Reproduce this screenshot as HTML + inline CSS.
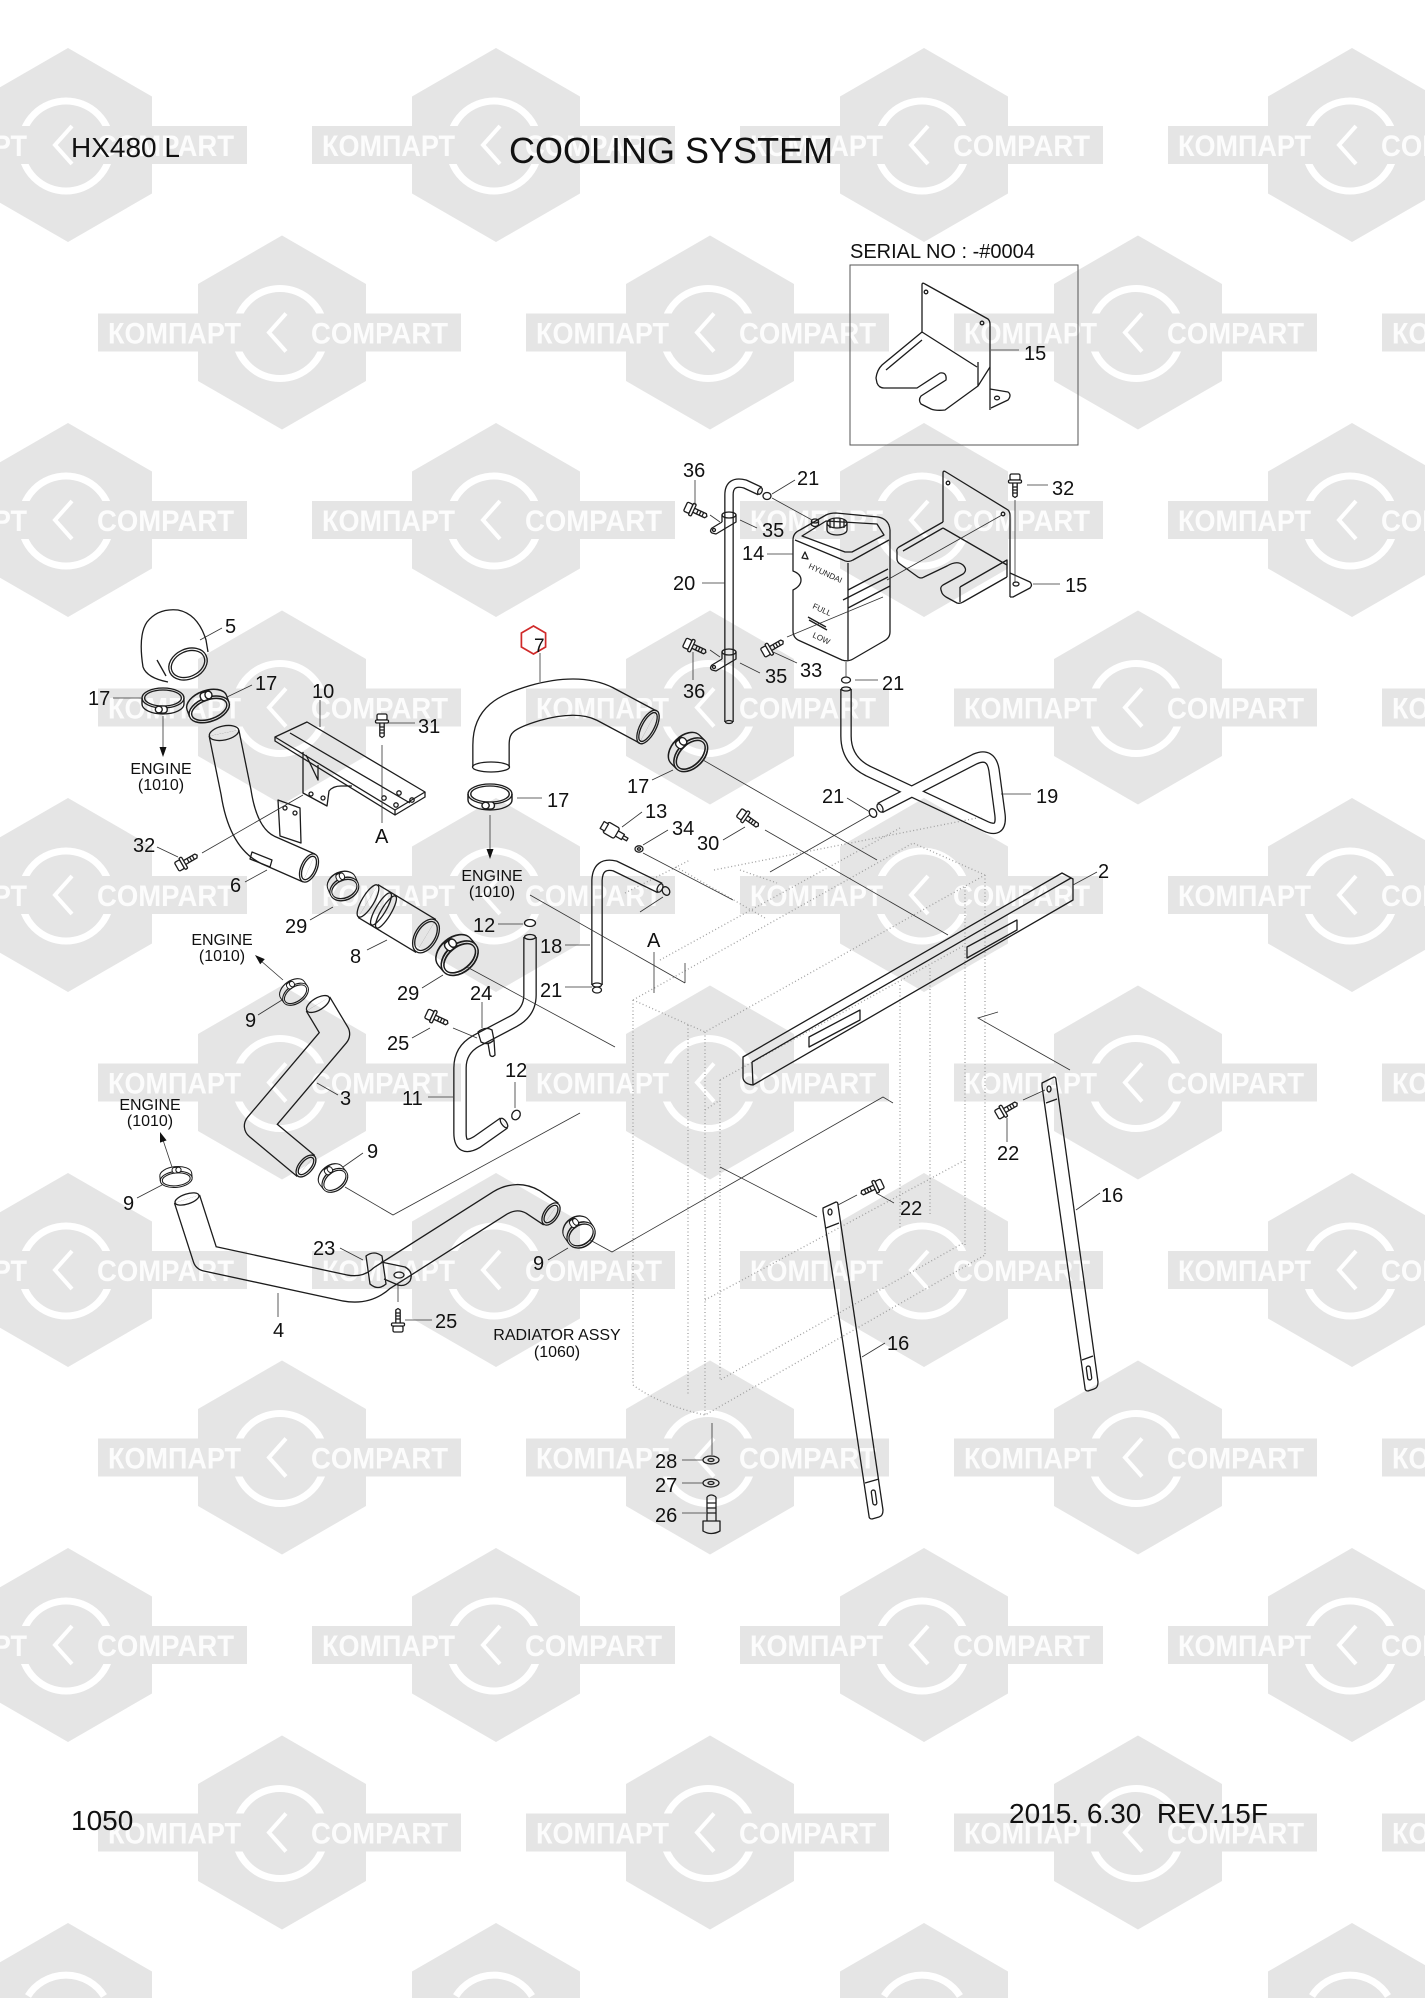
<!DOCTYPE html>
<html><head><meta charset="utf-8">
<style>
html,body{margin:0;padding:0;background:#fff;width:1425px;height:2000px;overflow:hidden;}
svg{display:block;}
.w{font:bold 30px "Liberation Sans",sans-serif;fill:#fcfcfc;}
.t{font:20px "Liberation Sans",sans-serif;fill:#111;}
.e{font:16px "Liberation Sans",sans-serif;fill:#111;}
.p{fill:none;stroke:#1c1c1c;stroke-width:1.3;stroke-linejoin:round;}
.l{fill:none;stroke:#333;stroke-width:0.8;}
.d{fill:none;stroke:#a0a0a0;stroke-width:1.3;stroke-dasharray:1 2.5;}
.sm{font:8px "Liberation Sans",sans-serif;fill:#222;}
</style></head>
<body>
<svg width="1425" height="2000" viewBox="0 0 1425 2000" xmlns="http://www.w3.org/2000/svg">
<defs>
<g id="h">
<polygon points="0,-97 84,-48.5 84,48.5 0,97 -84,48.5 -84,-48.5" fill="#e5e5e5"/>
<circle cx="-2" cy="1" r="45" fill="none" stroke="#fff" stroke-width="7"/>
<rect x="-184" y="-19" width="363" height="38" fill="#e5e5e5"/>
<polyline points="4,-19 -13,0 4,19" fill="none" stroke="#fff" stroke-width="4"/>
</g>
<g id="hb">
<polygon points="0,-97 84,-48.5 84,-22 -84,-22 -84,-48.5" fill="#e5e5e5"/>
<path d="M-40,-24 A45,45 0 0 1 36,-24" fill="none" stroke="#fff" stroke-width="7"/>
</g>
<g id="cl" class="p">
<ellipse cx="0" cy="-3" rx="20" ry="10"/>
<path d="M-20,-3 L-20,3 A20,10 0 0 0 20,3 L20,-3"/>
<ellipse cx="0" cy="-3" rx="17.5" ry="8"/>
<rect x="-6" y="5" width="10" height="7" rx="3" fill="#fff"/>
<circle cx="-4" cy="8.5" r="3.3" fill="#fff"/>
</g>
<g id="bo" class="p">
<rect x="-6" y="-5" width="6" height="10" rx="1.5" fill="#fff"/>
<rect x="0" y="-6.5" width="3" height="13" rx="1.2" fill="#fff"/>
<path d="M3,-2.2 H16 L17.5,0 L16,2.2 H3 M7,-2.2 v4.4 M10,-2.2 v4.4 M13,-2.2 v4.4"/>
</g>
<mask id="m7" maskUnits="userSpaceOnUse" x="0" y="0" width="1425" height="2000"><rect width="1425" height="2000" fill="#fff"/><path d="M491,767 L491,745 C491,720 505,712 535,703 C560,696 585,694 605,704 L648,727" fill="none" stroke="#000" stroke-width="35" stroke-linejoin="round"/></mask>
<mask id="m6" maskUnits="userSpaceOnUse" x="0" y="0" width="1425" height="2000"><rect width="1425" height="2000" fill="#fff"/><path d="M224,733 L236,792 Q243,838 268,850 L309,868" fill="none" stroke="#000" stroke-width="29" stroke-linejoin="round"/></mask>
<mask id="m3" maskUnits="userSpaceOnUse" x="0" y="0" width="1425" height="2000"><rect width="1425" height="2000" fill="#fff"/><path d="M318,1004 L336,1034 L258,1126 L306,1166" fill="none" stroke="#000" stroke-width="26" stroke-linejoin="round"/></mask>
<mask id="m4" maskUnits="userSpaceOnUse" x="0" y="0" width="1425" height="2000"><rect width="1425" height="2000" fill="#fff"/><path d="M187,1199 L206,1258 L345,1288 Q367,1292 382,1278 L500,1203 Q517,1193 533,1202 L551,1214" fill="none" stroke="#000" stroke-width="25" stroke-linejoin="round"/></mask>
<mask id="m8" maskUnits="userSpaceOnUse" x="0" y="0" width="1425" height="2000"><rect width="1425" height="2000" fill="#fff"/><path d="M368,901 L426,936" fill="none" stroke="#000" stroke-width="37"/></mask>
<mask id="m11" maskUnits="userSpaceOnUse" x="0" y="0" width="1425" height="2000"><rect width="1425" height="2000" fill="#fff"/><path d="M530,937 L530,995 Q530,1012 514,1021 L476,1041 Q460,1050 460,1068 L460,1133 Q460,1152 477,1142 L504,1123" fill="none" stroke="#000" stroke-width="11" stroke-linejoin="round"/></mask>
<mask id="m18" maskUnits="userSpaceOnUse" x="0" y="0" width="1425" height="2000"><rect width="1425" height="2000" fill="#fff"/><path d="M597,985 L597,880 Q598,862 615,866 L660,888" fill="none" stroke="#000" stroke-width="9" stroke-linejoin="round"/></mask>
<mask id="m19" maskUnits="userSpaceOnUse" x="0" y="0" width="1425" height="2000"><rect width="1425" height="2000" fill="#fff"/><path d="M846,689 L846,736 Q846,760 868,771 L985,826 Q1002,834 1000,815 L994,770 Q991,752 975,759 L880,808" fill="none" stroke="#000" stroke-width="9" stroke-linejoin="round"/></mask>
<mask id="m20" maskUnits="userSpaceOnUse" x="0" y="0" width="1425" height="2000"><rect width="1425" height="2000" fill="#fff"/><path d="M729,722 L729,495 Q729,480 745,484 L760,491" fill="none" stroke="#000" stroke-width="7" stroke-linejoin="round"/></mask>
</defs>

<rect width="1425" height="2000" fill="#fff"/>

<!-- WATERMARK -->
<g transform="translate(68,145)"><use href="#h"/><text x="-174" y="11" textLength="133" lengthAdjust="spacingAndGlyphs" class="w">КОМПАРТ</text><text x="29" y="11" textLength="137" lengthAdjust="spacingAndGlyphs" class="w">COMPART</text></g>
<g transform="translate(496,145)"><use href="#h"/><text x="-174" y="11" textLength="133" lengthAdjust="spacingAndGlyphs" class="w">КОМПАРТ</text><text x="29" y="11" textLength="137" lengthAdjust="spacingAndGlyphs" class="w">COMPART</text></g>
<g transform="translate(924,145)"><use href="#h"/><text x="-174" y="11" textLength="133" lengthAdjust="spacingAndGlyphs" class="w">КОМПАРТ</text><text x="29" y="11" textLength="137" lengthAdjust="spacingAndGlyphs" class="w">COMPART</text></g>
<g transform="translate(1352,145)"><use href="#h"/><text x="-174" y="11" textLength="133" lengthAdjust="spacingAndGlyphs" class="w">КОМПАРТ</text><text x="29" y="11" textLength="137" lengthAdjust="spacingAndGlyphs" class="w">COMPART</text></g>

<g transform="translate(282,332.5)"><use href="#h"/><text x="-174" y="11" textLength="133" lengthAdjust="spacingAndGlyphs" class="w">КОМПАРТ</text><text x="29" y="11" textLength="137" lengthAdjust="spacingAndGlyphs" class="w">COMPART</text></g>
<g transform="translate(710,332.5)"><use href="#h"/><text x="-174" y="11" textLength="133" lengthAdjust="spacingAndGlyphs" class="w">КОМПАРТ</text><text x="29" y="11" textLength="137" lengthAdjust="spacingAndGlyphs" class="w">COMPART</text></g>
<g transform="translate(1138,332.5)"><use href="#h"/><text x="-174" y="11" textLength="133" lengthAdjust="spacingAndGlyphs" class="w">КОМПАРТ</text><text x="29" y="11" textLength="137" lengthAdjust="spacingAndGlyphs" class="w">COMPART</text></g>
<g transform="translate(1566,332.5)"><use href="#h"/><text x="-174" y="11" textLength="133" lengthAdjust="spacingAndGlyphs" class="w">КОМПАРТ</text><text x="29" y="11" textLength="137" lengthAdjust="spacingAndGlyphs" class="w">COMPART</text></g>

<g transform="translate(68,520)"><use href="#h"/><text x="-174" y="11" textLength="133" lengthAdjust="spacingAndGlyphs" class="w">КОМПАРТ</text><text x="29" y="11" textLength="137" lengthAdjust="spacingAndGlyphs" class="w">COMPART</text></g>
<g transform="translate(496,520)"><use href="#h"/><text x="-174" y="11" textLength="133" lengthAdjust="spacingAndGlyphs" class="w">КОМПАРТ</text><text x="29" y="11" textLength="137" lengthAdjust="spacingAndGlyphs" class="w">COMPART</text></g>
<g transform="translate(924,520)"><use href="#h"/><text x="-174" y="11" textLength="133" lengthAdjust="spacingAndGlyphs" class="w">КОМПАРТ</text><text x="29" y="11" textLength="137" lengthAdjust="spacingAndGlyphs" class="w">COMPART</text></g>
<g transform="translate(1352,520)"><use href="#h"/><text x="-174" y="11" textLength="133" lengthAdjust="spacingAndGlyphs" class="w">КОМПАРТ</text><text x="29" y="11" textLength="137" lengthAdjust="spacingAndGlyphs" class="w">COMPART</text></g>

<g transform="translate(282,707.5)"><use href="#h"/><text x="-174" y="11" textLength="133" lengthAdjust="spacingAndGlyphs" class="w">КОМПАРТ</text><text x="29" y="11" textLength="137" lengthAdjust="spacingAndGlyphs" class="w">COMPART</text></g>
<g transform="translate(710,707.5)"><use href="#h"/><text x="-174" y="11" textLength="133" lengthAdjust="spacingAndGlyphs" class="w">КОМПАРТ</text><text x="29" y="11" textLength="137" lengthAdjust="spacingAndGlyphs" class="w">COMPART</text></g>
<g transform="translate(1138,707.5)"><use href="#h"/><text x="-174" y="11" textLength="133" lengthAdjust="spacingAndGlyphs" class="w">КОМПАРТ</text><text x="29" y="11" textLength="137" lengthAdjust="spacingAndGlyphs" class="w">COMPART</text></g>
<g transform="translate(1566,707.5)"><use href="#h"/><text x="-174" y="11" textLength="133" lengthAdjust="spacingAndGlyphs" class="w">КОМПАРТ</text><text x="29" y="11" textLength="137" lengthAdjust="spacingAndGlyphs" class="w">COMPART</text></g>

<g transform="translate(68,895)"><use href="#h"/><text x="-174" y="11" textLength="133" lengthAdjust="spacingAndGlyphs" class="w">КОМПАРТ</text><text x="29" y="11" textLength="137" lengthAdjust="spacingAndGlyphs" class="w">COMPART</text></g>
<g transform="translate(496,895)"><use href="#h"/><text x="-174" y="11" textLength="133" lengthAdjust="spacingAndGlyphs" class="w">КОМПАРТ</text><text x="29" y="11" textLength="137" lengthAdjust="spacingAndGlyphs" class="w">COMPART</text></g>
<g transform="translate(924,895)"><use href="#h"/><text x="-174" y="11" textLength="133" lengthAdjust="spacingAndGlyphs" class="w">КОМПАРТ</text><text x="29" y="11" textLength="137" lengthAdjust="spacingAndGlyphs" class="w">COMPART</text></g>
<g transform="translate(1352,895)"><use href="#h"/><text x="-174" y="11" textLength="133" lengthAdjust="spacingAndGlyphs" class="w">КОМПАРТ</text><text x="29" y="11" textLength="137" lengthAdjust="spacingAndGlyphs" class="w">COMPART</text></g>

<g transform="translate(282,1082.5)"><use href="#h"/><text x="-174" y="11" textLength="133" lengthAdjust="spacingAndGlyphs" class="w">КОМПАРТ</text><text x="29" y="11" textLength="137" lengthAdjust="spacingAndGlyphs" class="w">COMPART</text></g>
<g transform="translate(710,1082.5)"><use href="#h"/><text x="-174" y="11" textLength="133" lengthAdjust="spacingAndGlyphs" class="w">КОМПАРТ</text><text x="29" y="11" textLength="137" lengthAdjust="spacingAndGlyphs" class="w">COMPART</text></g>
<g transform="translate(1138,1082.5)"><use href="#h"/><text x="-174" y="11" textLength="133" lengthAdjust="spacingAndGlyphs" class="w">КОМПАРТ</text><text x="29" y="11" textLength="137" lengthAdjust="spacingAndGlyphs" class="w">COMPART</text></g>
<g transform="translate(1566,1082.5)"><use href="#h"/><text x="-174" y="11" textLength="133" lengthAdjust="spacingAndGlyphs" class="w">КОМПАРТ</text><text x="29" y="11" textLength="137" lengthAdjust="spacingAndGlyphs" class="w">COMPART</text></g>

<g transform="translate(68,1270)"><use href="#h"/><text x="-174" y="11" textLength="133" lengthAdjust="spacingAndGlyphs" class="w">КОМПАРТ</text><text x="29" y="11" textLength="137" lengthAdjust="spacingAndGlyphs" class="w">COMPART</text></g>
<g transform="translate(496,1270)"><use href="#h"/><text x="-174" y="11" textLength="133" lengthAdjust="spacingAndGlyphs" class="w">КОМПАРТ</text><text x="29" y="11" textLength="137" lengthAdjust="spacingAndGlyphs" class="w">COMPART</text></g>
<g transform="translate(924,1270)"><use href="#h"/><text x="-174" y="11" textLength="133" lengthAdjust="spacingAndGlyphs" class="w">КОМПАРТ</text><text x="29" y="11" textLength="137" lengthAdjust="spacingAndGlyphs" class="w">COMPART</text></g>
<g transform="translate(1352,1270)"><use href="#h"/><text x="-174" y="11" textLength="133" lengthAdjust="spacingAndGlyphs" class="w">КОМПАРТ</text><text x="29" y="11" textLength="137" lengthAdjust="spacingAndGlyphs" class="w">COMPART</text></g>

<g transform="translate(282,1457.5)"><use href="#h"/><text x="-174" y="11" textLength="133" lengthAdjust="spacingAndGlyphs" class="w">КОМПАРТ</text><text x="29" y="11" textLength="137" lengthAdjust="spacingAndGlyphs" class="w">COMPART</text></g>
<g transform="translate(710,1457.5)"><use href="#h"/><text x="-174" y="11" textLength="133" lengthAdjust="spacingAndGlyphs" class="w">КОМПАРТ</text><text x="29" y="11" textLength="137" lengthAdjust="spacingAndGlyphs" class="w">COMPART</text></g>
<g transform="translate(1138,1457.5)"><use href="#h"/><text x="-174" y="11" textLength="133" lengthAdjust="spacingAndGlyphs" class="w">КОМПАРТ</text><text x="29" y="11" textLength="137" lengthAdjust="spacingAndGlyphs" class="w">COMPART</text></g>
<g transform="translate(1566,1457.5)"><use href="#h"/><text x="-174" y="11" textLength="133" lengthAdjust="spacingAndGlyphs" class="w">КОМПАРТ</text><text x="29" y="11" textLength="137" lengthAdjust="spacingAndGlyphs" class="w">COMPART</text></g>

<g transform="translate(68,1645)"><use href="#h"/><text x="-174" y="11" textLength="133" lengthAdjust="spacingAndGlyphs" class="w">КОМПАРТ</text><text x="29" y="11" textLength="137" lengthAdjust="spacingAndGlyphs" class="w">COMPART</text></g>
<g transform="translate(496,1645)"><use href="#h"/><text x="-174" y="11" textLength="133" lengthAdjust="spacingAndGlyphs" class="w">КОМПАРТ</text><text x="29" y="11" textLength="137" lengthAdjust="spacingAndGlyphs" class="w">COMPART</text></g>
<g transform="translate(924,1645)"><use href="#h"/><text x="-174" y="11" textLength="133" lengthAdjust="spacingAndGlyphs" class="w">КОМПАРТ</text><text x="29" y="11" textLength="137" lengthAdjust="spacingAndGlyphs" class="w">COMPART</text></g>
<g transform="translate(1352,1645)"><use href="#h"/><text x="-174" y="11" textLength="133" lengthAdjust="spacingAndGlyphs" class="w">КОМПАРТ</text><text x="29" y="11" textLength="137" lengthAdjust="spacingAndGlyphs" class="w">COMPART</text></g>

<g transform="translate(282,1832.5)"><use href="#h"/><text x="-174" y="11" textLength="133" lengthAdjust="spacingAndGlyphs" class="w">КОМПАРТ</text><text x="29" y="11" textLength="137" lengthAdjust="spacingAndGlyphs" class="w">COMPART</text></g>
<g transform="translate(710,1832.5)"><use href="#h"/><text x="-174" y="11" textLength="133" lengthAdjust="spacingAndGlyphs" class="w">КОМПАРТ</text><text x="29" y="11" textLength="137" lengthAdjust="spacingAndGlyphs" class="w">COMPART</text></g>
<g transform="translate(1138,1832.5)"><use href="#h"/><text x="-174" y="11" textLength="133" lengthAdjust="spacingAndGlyphs" class="w">КОМПАРТ</text><text x="29" y="11" textLength="137" lengthAdjust="spacingAndGlyphs" class="w">COMPART</text></g>
<g transform="translate(1566,1832.5)"><use href="#h"/><text x="-174" y="11" textLength="133" lengthAdjust="spacingAndGlyphs" class="w">КОМПАРТ</text><text x="29" y="11" textLength="137" lengthAdjust="spacingAndGlyphs" class="w">COMPART</text></g>

<g transform="translate(68,2020)"><use href="#hb"/></g>
<g transform="translate(496,2020)"><use href="#hb"/></g>
<g transform="translate(924,2020)"><use href="#hb"/></g>
<g transform="translate(1352,2020)"><use href="#hb"/></g>

<!-- RADIATOR (dotted) -->
<g class="d">
<path d="M633,1000 L705,1032 L985,875 M633,1000 L913,843 L985,875"/>
<path d="M633,1000 L633,1385 M688,1025 L688,1395 M705,1032 L705,1415 M965,887 L965,1245 M985,875 L985,1255"/>
<path d="M633,1385 Q660,1405 705,1415 L985,1255"/>
<path d="M720,1080 L965,945 M720,1080 L720,1380 L965,1242 M900,985 L900,1230 M930,968 L930,1215"/>
<path d="M660,960 L900,828 M676,867 L765,918 M740,870 L777,883 M714,870 L982,817 M625,893 L690,860"/>
<path d="M705,1300 L965,1160 M705,1110 L720,1100"/>
</g>

<!-- TUBES -->
<path d="M491,767 L491,745 C491,720 505,712 535,703 C560,696 585,694 605,704 L648,727" fill="none" stroke="#1c1c1c" stroke-width="37.6" stroke-linejoin="round" mask="url(#m7)"/>
<path d="M224,733 L236,792 Q243,838 268,850 L309,868" fill="none" stroke="#1c1c1c" stroke-width="31.6" stroke-linejoin="round" mask="url(#m6)"/>
<path d="M318,1004 L336,1034 L258,1126 L306,1166" fill="none" stroke="#1c1c1c" stroke-width="28.6" stroke-linejoin="round" mask="url(#m3)"/>
<path d="M187,1199 L206,1258 L345,1288 Q367,1292 382,1278 L500,1203 Q517,1193 533,1202 L551,1214" fill="none" stroke="#1c1c1c" stroke-width="27.6" stroke-linejoin="round" mask="url(#m4)"/>
<path d="M368,901 L426,936" fill="none" stroke="#1c1c1c" stroke-width="39.6" mask="url(#m8)"/>
<path d="M530,937 L530,995 Q530,1012 514,1021 L476,1041 Q460,1050 460,1068 L460,1133 Q460,1152 477,1142 L504,1123" fill="none" stroke="#1c1c1c" stroke-width="13.6" stroke-linejoin="round" mask="url(#m11)"/>
<path d="M597,985 L597,880 Q598,862 615,866 L660,888" fill="none" stroke="#1c1c1c" stroke-width="11.6" stroke-linejoin="round" mask="url(#m18)"/>
<path d="M846,689 L846,736 Q846,760 868,771 L985,826 Q1002,834 1000,815 L994,770 Q991,752 975,759 L880,808" fill="none" stroke="#1c1c1c" stroke-width="11.6" stroke-linejoin="round" mask="url(#m19)"/>
<path d="M729,722 L729,495 Q729,480 745,484 L760,491" fill="none" stroke="#1c1c1c" stroke-width="9.6" stroke-linejoin="round" mask="url(#m20)"/>

<!-- tube ends -->
<g class="p">
<ellipse cx="491" cy="767" rx="18.5" ry="5"/>
<ellipse cx="648" cy="727" rx="8" ry="18.5" transform="rotate(28 648 727)"/>
<ellipse cx="648" cy="727" rx="6" ry="16" transform="rotate(28 648 727)"/>
<ellipse cx="224" cy="733" rx="15" ry="7" transform="rotate(-12 224 733)"/>
<ellipse cx="309" cy="868" rx="8" ry="15" transform="rotate(24 309 868)"/>
<ellipse cx="309" cy="868" rx="6" ry="12.5" transform="rotate(24 309 868)"/>
<path d="M252,852 L272,860 L270,867 L250,859 Z"/>
<ellipse cx="318" cy="1004" rx="6" ry="13" transform="rotate(59 318 1004)"/>
<ellipse cx="306" cy="1166" rx="7" ry="13" transform="rotate(40 306 1166)"/>
<ellipse cx="306" cy="1166" rx="5" ry="10.5" transform="rotate(40 306 1166)"/>
<ellipse cx="187" cy="1199" rx="5" ry="12.5" transform="rotate(72 187 1199)"/>
<ellipse cx="551" cy="1214" rx="7" ry="12.5" transform="rotate(34 551 1214)"/>
<ellipse cx="551" cy="1214" rx="5" ry="10" transform="rotate(34 551 1214)"/>
<ellipse cx="426" cy="936" rx="11" ry="18.5" transform="rotate(31 426 936)"/>
<ellipse cx="426" cy="936" rx="9" ry="16" transform="rotate(31 426 936)"/>
<ellipse cx="368" cy="901" rx="6" ry="18.5" transform="rotate(31 368 901)"/>
<ellipse cx="381" cy="909" rx="5" ry="18.5" transform="rotate(31 381 909)"/>
<ellipse cx="386" cy="912" rx="5" ry="18.5" transform="rotate(31 386 912)"/>
<ellipse cx="530" cy="937" rx="5.5" ry="2.5"/>
<ellipse cx="504" cy="1123" rx="2.5" ry="5.5" transform="rotate(-35 504 1123)"/>
<ellipse cx="660" cy="888" rx="2.5" ry="4.5" transform="rotate(26 660 888)"/>
<ellipse cx="597" cy="985" rx="4.5" ry="2"/>
<ellipse cx="846" cy="689" rx="4.5" ry="2"/>
<ellipse cx="880" cy="808" rx="2.5" ry="4.5" transform="rotate(-28 880 808)"/>
<ellipse cx="729" cy="722" rx="3.5" ry="1.5"/>
<ellipse cx="760" cy="491" rx="2" ry="3.5" transform="rotate(25 760 491)"/>
</g>

<!-- ELBOW 5 -->
<g class="p">
<path d="M143,667 Q138,635 147,622 Q158,608 178,610 Q198,614 206,640 L208,652"/>
<path d="M143,667 Q147,678 168,682"/>
<ellipse cx="188" cy="664" rx="20" ry="15" transform="rotate(-25 188 664)"/>
<ellipse cx="188" cy="664" rx="17.5" ry="12.5" transform="rotate(-25 188 664)"/>
<path d="M157,660 L166,676"/>
</g>

<!-- BRACKET 10 + PLATE -->
<g class="p">
<path d="M275,737 L307,722 L425,792 L395,810 Z"/>
<path d="M275,737 L275,741 L395,815 L395,810 M395,815 L425,797 L425,792"/>
<path d="M290,733 L410,803"/>
<circle cx="399" cy="793" r="2.2"/><circle cx="412" cy="800" r="2.2"/><circle cx="396" cy="805" r="2.2"/><circle cx="384" cy="798" r="2.2"/>
<path d="M303,752 L303,793 L327,806 L329,791 Q333,786 341,786 L352,786"/>
<path d="M306,755 L318,780 L318,765"/>
<path d="M278,800 L300,808 L301,843 L280,836 Z"/>
<circle cx="285" cy="808" r="2"/><circle cx="295" cy="813" r="2"/>
<circle cx="311" cy="794" r="2"/><circle cx="323" cy="798" r="2"/>
</g>

<!-- HOSE CLAMPS -->
<use href="#cl" transform="translate(163,701) scale(1.05,1)"/>
<use href="#cl" transform="translate(208,706) rotate(160) scale(1.05,1.2)"/>
<use href="#cl" transform="translate(490,797) scale(1.1,1)"/>
<use href="#cl" transform="translate(688,752) rotate(135) scale(1,1.3)"/>
<use href="#cl" transform="translate(343,886) rotate(156) scale(0.75,1.1)"/>
<use href="#cl" transform="translate(457,955) rotate(140) scale(1.05,1.4)"/>
<use href="#cl" transform="translate(294,992) rotate(145) scale(0.72,0.9)"/>
<use href="#cl" transform="translate(333,1178) rotate(141) scale(0.72,1)"/>
<use href="#cl" transform="translate(176,1177) rotate(174) scale(0.8,0.8)"/>
<use href="#cl" transform="translate(579,1232) rotate(145) scale(0.75,1.2)"/>

<!-- BOLTS -->
<use href="#bo" transform="translate(382,720) rotate(90)"/>
<use href="#bo" transform="translate(182,864) rotate(-30)"/>
<use href="#bo" transform="translate(691,509) rotate(25)"/>
<use href="#bo" transform="translate(690,645) rotate(25)"/>
<use href="#bo" transform="translate(768,650) rotate(-30)"/>
<use href="#bo" transform="translate(1015,480) rotate(90)"/>
<use href="#bo" transform="translate(744,816) rotate(35)"/>
<use href="#bo" transform="translate(432,1016) rotate(25)"/>
<use href="#bo" transform="translate(398,1326) rotate(-90)"/>
<use href="#bo" transform="translate(1002,1112) rotate(-30)"/>
<use href="#bo" transform="translate(877,1186) rotate(155)"/>

<!-- small parts -->
<g class="p">
<g transform="translate(616,833) rotate(30)"><rect x="-12" y="-6" width="13" height="12" rx="2" fill="#fff"/><rect x="-16" y="-4" width="5" height="8" fill="#fff"/><path d="M1,-3 H8 V3 H1 M8,-1.5 H13 V1.5 H8"/></g>
<ellipse cx="639" cy="849" rx="4" ry="3.2"/><ellipse cx="639" cy="849" rx="1.6" ry="1.2"/>
<ellipse cx="767" cy="496" rx="4" ry="3.5"/>
<ellipse cx="846" cy="680" rx="4.5" ry="3"/>
<ellipse cx="873" cy="813" rx="3.5" ry="4.5" transform="rotate(-30 873 813)"/>
<ellipse cx="666" cy="891" rx="3.5" ry="4.5" transform="rotate(-30 666 891)"/>
<ellipse cx="597" cy="990" rx="4.5" ry="3"/>
<ellipse cx="530" cy="923" rx="5.5" ry="3.5"/>
<ellipse cx="516" cy="1115" rx="4" ry="5" transform="rotate(30 516 1115)"/>
<ellipse cx="729" cy="515" rx="7" ry="3"/>
<path d="M722,515 L722,522 M736,515 L736,522 L716,534 L712,533 Q709,531 712,528 L722,522"/>
<circle cx="714" cy="530" r="1.5"/>
<ellipse cx="729" cy="652" rx="7" ry="3"/>
<path d="M722,652 L722,659 M736,652 L736,659 L716,671 L712,670 Q709,668 712,665 L722,659"/>
<circle cx="714" cy="667" r="1.5"/>
<path d="M478,1032 Q485,1026 492,1030 L494,1040 Q488,1046 481,1042 Z M488,1043 L490,1055 Q492,1058 495,1055 L494,1040"/>
<path d="M366,1256 Q374,1250 382,1256 L386,1284 Q378,1291 370,1284 Z"/>
<path d="M381,1262 L405,1267 Q414,1272 410,1281 Q405,1287 398,1285 L384,1279"/>
<ellipse cx="399" cy="1275" rx="5" ry="3"/>
<ellipse cx="711" cy="1460" rx="8" ry="4"/><ellipse cx="711" cy="1460" rx="3" ry="1.5"/>
<ellipse cx="711" cy="1483" rx="8" ry="4"/><ellipse cx="711" cy="1483" rx="3" ry="1.5"/>
<path d="M707,1497 L707,1521 M716,1497 L716,1521 M707,1497 Q711,1493 716,1497 M707,1503 H716 M707,1508 H716 M707,1513 H716"/>
<path d="M703,1521 H720 V1531 Q711,1536 703,1531 Z"/>
</g>

<!-- TANK 14 -->
<g class="p">
<path d="M793,540 Q793,533 800,530 L826,515 Q830,513 836,513 L878,517 Q889,519 890,530 L890,632 Q890,638 884,641 L853,659 Q848,662 842,660 L798,640 Q793,637 793,631 L793,590 Q801,586 801,580 Q801,574 793,571 Z"/>
<path d="M848,563 L848,660"/>
<path d="M795,540 L843,560 Q848,563 853,560 L889,540"/>
<path d="M802,536 L826,521 L877,524 L884,535 L852,552 L845,552 Z"/>
<ellipse cx="837" cy="523" rx="10" ry="5"/>
<path d="M827,523 L827,530 A10,5 0 0 0 847,530 L847,523"/>
<path d="M830,519 L830,528 M834,518 L834,528 M840,518 L840,528 M844,519 L844,528"/>
<ellipse cx="815" cy="521" rx="3.5" ry="2"/><path d="M811.5,521 V525 Q815,528 818.5,525 V521"/>
<path d="M843,600 L888,577 M848,608 L890,586 M848,590 L888,569"/>
<path d="M808,617 L826,627 M809,620 L827,630"/>
<path d="M802,558 L805,552 L808,559 Z"/>
</g>
<text class="sm" transform="translate(808,568) rotate(25)">HYUNDAI</text>
<text class="sm" transform="translate(812,608) rotate(25)">FULL</text>
<text class="sm" transform="translate(812,637) rotate(25)">LOW</text>

<!-- BRACKET 15 main -->
<g class="p">
<path d="M943,522 L943,473 Q943,470 946,472 L1008,510 Q1010,512 1010,515 L1010,597"/>
<path d="M1010,573 L1030,582 Q1033,585 1030,588 L1013,597 L1010,597"/>
<circle cx="948" cy="483" r="1.8"/><circle cx="1003" cy="514" r="1.8"/>
<ellipse cx="1016" cy="584" rx="3" ry="2"/>
<path d="M943,522 L899,547 Q896,549 897,552 L897,559 Q897,562 900,564 L918,577 Q921,579 924,577 L947,566 Q957,560 963,565 Q968,570 963,574 L943,585 Q940,587 941,590 L942,593 Q943,595 946,597 L957,603 Q960,604 963,602 L1007,577"/>
<path d="M943,528 L903,551 M943,528 L1007,565 M960,587 L1007,560 L1007,577 M960,587 L960,602"/>
</g>

<!-- SERIAL BOX -->
<rect x="850" y="265" width="228" height="180" fill="none" stroke="#555" stroke-width="1"/>
<g class="p">
<path d="M922,333 L922,285 Q922,282 925,284 L988,319 Q990,321 990,324 L990,410"/>
<circle cx="926" cy="292" r="1.8"/><circle cx="982" cy="323" r="1.8"/>
<path d="M922,332 L882,365 Q877,370 876,378 L877,383 Q879,388 884,388 L917,388 L940,373 Q947,372 946,380 L921,396 Q918,400 921,404 L931,409 Q936,411 945,410 L978,386 L990,367"/>
<path d="M922,340 L886,370 M922,332 L977,367 M978,386 L978,362"/>
<path d="M990,389 L1008,392 Q1012,395 1008,400 L991,408"/>
<ellipse cx="997" cy="398" rx="2.5" ry="1.8"/>
</g>

<!-- BAR 2 -->
<g class="p">
<path d="M743,1057 L1062,873 L1073,879 L1073,900 L753,1085 Q744,1084 743,1078 Z"/>
<path d="M752,1062 L1071,878 M752,1062 Q752,1062 753,1085"/>
<path d="M809,1037 L860,1010 L860,1020 L809,1047 Z"/>
<path d="M967,947 L1017,920 L1017,930 L967,958 Z"/>
</g>

<!-- STRUTS 16 -->
<g class="p">
<path d="M1042,1083 L1054,1077 Q1056,1077 1056,1080 L1098,1382 Q1098,1388 1094,1389 L1088,1391 Q1085,1391 1085,1388 L1042,1086 Z"/>
<ellipse cx="1049" cy="1089" rx="2" ry="3"/>
<path d="M1046,1103 L1057,1099 M1082,1360 L1093,1356"/>
<rect x="1087" y="1366" width="4" height="14" rx="2" transform="rotate(-8 1089 1373)"/>
<path d="M823,1208 L836,1202 Q838,1202 838,1205 L883,1510 Q883,1516 879,1517 L872,1519 Q869,1519 869,1516 L823,1211 Z"/>
<ellipse cx="830" cy="1212" rx="2" ry="3"/>
<path d="M826,1228 L839,1223 M865,1483 L879,1479"/>
<rect x="872" y="1490" width="4" height="15" rx="2" transform="rotate(-8 874 1497)"/>
</g>

<!-- RED HEX 7 -->
<polygon points="533.5,626 545.6,633 545.6,647 533.5,654 521.4,647 521.4,633" fill="none" stroke="#d02a2a" stroke-width="1.7"/>

<!-- LEADER LINES -->
<g class="l">
<path d="M222,628 L200,640 M113,698 L142,698 M252,685 L227,697 M320,700 L320,727 M388,723 L415,723 M382,745 L382,823"/>
<path d="M157,847 L178,857 M202,853 L303,795 M245,882 L267,870 M540,653 L540,682 M517,798 L542,798"/>
<path d="M652,780 L673,770 M703,760 L877,860 M642,812 L622,827 M668,830 L643,845 M643,853 L733,900"/>
<path d="M723,840 L745,827 M765,830 L948,935 M695,480 L695,505 M710,515 L720,522 M693,652 L693,680 M710,650 L720,657"/>
<path d="M740,520 L757,528 M740,663 L760,673 M795,480 L772,494 M772,498 L812,520 M767,554 L793,554 M702,583 L725,583"/>
<path d="M773,652 L797,663 M787,637 L883,597 M855,680 L878,680 M846,662 L846,677 M1027,485 L1048,485 M1015,500 L1015,583"/>
<path d="M1033,584 L1060,584 M887,580 L1002,515 M991,350 L1019,350 M1001,794 L1031,794 M847,798 L870,812 M870,815 L770,872"/>
<path d="M1097,872 L1073,885 M498,924 L523,924 M565,945 L590,945 M565,987 L592,987 M640,912 L663,897 M654,952 L654,993"/>
<path d="M530,895 L685,983 M685,963 L685,983 M367,950 L387,940 M310,920 L333,907 M422,988 L443,975 M467,967 L615,1047"/>
<path d="M482,1002 L482,1028 M412,1038 L430,1028 M453,1028 L477,1038 M515,1082 L515,1108 M428,1097 L453,1097"/>
<path d="M283,980 L260,960 M258,1015 L282,1000 M317,1083 L338,1095 M363,1153 L343,1167 M345,1187 L393,1215 L580,1113"/>
<path d="M172,1167 L163,1140 M137,1198 L162,1185 M278,1293 L278,1317 M340,1248 L363,1260 M405,1320 L432,1320 M398,1283 L398,1302"/>
<path d="M548,1260 L568,1248 M590,1240 L612,1252 L883,1097 L893,1103 M1007,1118 L1007,1142 M1023,1100 L1045,1090"/>
<path d="M1100,1193 L1076,1210 M998,1012 L978,1018 L1070,1070 M894,1203 L876,1193 M857,1195 L838,1205 M720,1167 L817,1217 M885,1343 L862,1357"/>
<path d="M682,1460 L703,1460 M682,1483 L703,1483 M682,1513 L706,1513 M712,1423 L712,1455"/>
<path d="M163,716 L163,750 M490,815 L490,852"/>
</g>
<g fill="#111">
<polygon points="163,757 159.5,747 166.5,747"/>
<polygon points="490,859 486.5,849 493.5,849"/>
<polygon points="255,955 264.8,959.1 260.2,964.3"/>
<polygon points="160,1132 166.6,1140.4 160,1142.6"/>
</g>

<!-- TITLES -->
<text x="71" y="157" style="font:28px 'Liberation Sans',sans-serif;fill:#111">HX480 L</text>
<text x="509" y="163" style="font:36px 'Liberation Sans',sans-serif;fill:#111">COOLING SYSTEM</text>
<text x="850" y="258" class="t">SERIAL NO : -#0004</text>
<text x="71" y="1830" style="font:28px 'Liberation Sans',sans-serif;fill:#111">1050</text>
<text x="1009" y="1823" style="font:28px 'Liberation Sans',sans-serif;fill:#111">2015. 6.30&#160; REV.15F</text>

<!-- LABELS -->
<g class="t">
<text x="225" y="633">5</text>
<text x="88" y="705">17</text>
<text x="255" y="690">17</text>
<text x="312" y="698">10</text>
<text x="418" y="733">31</text>
<text x="375" y="843">A</text>
<text x="133" y="852">32</text>
<text x="230" y="892">6</text>
<text x="534" y="652" style="font-size:19px">7</text>
<text x="547" y="807">17</text>
<text x="627" y="793">17</text>
<text x="645" y="818">13</text>
<text x="672" y="835">34</text>
<text x="697" y="850">30</text>
<text x="683" y="477">36</text>
<text x="683" y="698">36</text>
<text x="762" y="537">35</text>
<text x="765" y="683">35</text>
<text x="797" y="485">21</text>
<text x="742" y="560">14</text>
<text x="673" y="590">20</text>
<text x="800" y="677">33</text>
<text x="882" y="690">21</text>
<text x="1052" y="495">32</text>
<text x="1065" y="592">15</text>
<text x="1024" y="360">15</text>
<text x="1036" y="803">19</text>
<text x="822" y="803">21</text>
<text x="1098" y="878">2</text>
<text x="473" y="932">12</text>
<text x="540" y="953">18</text>
<text x="540" y="997">21</text>
<text x="647" y="947">A</text>
<text x="350" y="963">8</text>
<text x="285" y="933">29</text>
<text x="397" y="1000">29</text>
<text x="470" y="1000">24</text>
<text x="387" y="1050">25</text>
<text x="505" y="1077">12</text>
<text x="402" y="1105">11</text>
<text x="245" y="1027">9</text>
<text x="340" y="1105">3</text>
<text x="367" y="1158">9</text>
<text x="123" y="1210">9</text>
<text x="313" y="1255">23</text>
<text x="273" y="1337">4</text>
<text x="435" y="1328">25</text>
<text x="533" y="1270">9</text>
<text x="997" y="1160">22</text>
<text x="1101" y="1202">16</text>
<text x="900" y="1215">22</text>
<text x="887" y="1350">16</text>
<text x="655" y="1468">28</text>
<text x="655" y="1492">27</text>
<text x="655" y="1522">26</text>
</g>
<g class="e" text-anchor="middle">
<text x="161" y="774">ENGINE</text><text x="161" y="790">(1010)</text>
<text x="492" y="881">ENGINE</text><text x="492" y="897">(1010)</text>
<text x="222" y="945">ENGINE</text><text x="222" y="961">(1010)</text>
<text x="150" y="1110">ENGINE</text><text x="150" y="1126">(1010)</text>
<text x="557" y="1340">RADIATOR ASSY</text><text x="557" y="1357">(1060)</text>
</g>
</svg>
</body></html>
